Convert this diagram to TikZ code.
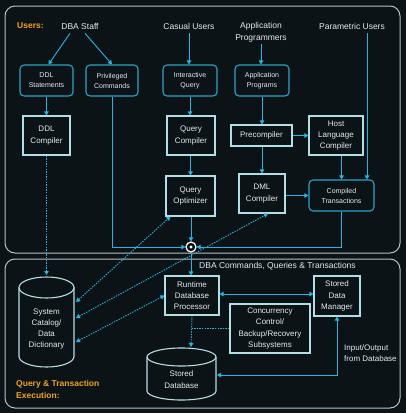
\documentclass[tikz,border=0pt]{standalone}
\usepackage{fontspec}
\setmainfont{Liberation Sans}
\usetikzlibrary{arrows.meta}
\definecolor{bgc}{HTML}{0B1316}
\definecolor{rline}{HTML}{2AA3C6}
\definecolor{sline}{HTML}{B4DEE6}
\definecolor{acol}{HTML}{27B4E4}
\definecolor{txt}{HTML}{E4ECEE}
\definecolor{orng}{HTML}{F0A21E}
\definecolor{pcol}{HTML}{B8C2C2}
\begin{document}
\begin{tikzpicture}[x=1pt,y=-1pt,
  lbl/.style={text=txt,font=\fontsize{8.5}{12}\selectfont,inner sep=0pt,align=center},
  olbl/.style={text=orng,font=\bfseries\fontsize{8.5}{12}\selectfont,inner sep=0pt,align=left},
  rbox/.style={draw=rline,line width=1.1pt,rounded corners=4pt,text=txt,font=\fontsize{7}{10}\selectfont,align=center,inner sep=0pt},
  sbox/.style={draw=sline,line width=1.1pt,text=txt,font=\fontsize{8}{11.3}\selectfont,align=center,inner sep=0pt},
  cyl/.style={draw=sline,line width=1.1pt},
  arr/.style={draw=acol,line width=0.9pt,-{Triangle[length=4pt,width=4.5pt]}},
  darr/.style={draw=acol,line width=0.9pt,{Triangle[length=4pt,width=4.5pt]}-{Triangle[length=4pt,width=4.5pt]}},
  dotl/.style={dash pattern=on 1.4pt off 1.2pt},
  panel/.style={draw=pcol,line width=1pt,rounded corners=10pt},
]
\fill[bgc] (0,0) rectangle (406,413);
\useasboundingbox (0,0) rectangle (406,413);

% panels
\draw[panel] (5,6) rectangle (400,253);
\draw[panel] (5,259) rectangle (400,408);

% header labels
\node[olbl,anchor=west] (users) at (17,26) {Users:};
\node[lbl] (dba) at (80,26) {DBA Staff};
\node[lbl] (casual) at (189,26) {Casual Users};
\node[lbl] (appprog) at (261,32) {Application\\Programmers};
\node[lbl] (param) at (352,26) {Parametric Users};

% row 1
\node[rbox,minimum width=53pt,minimum height=31pt] (ddlst) at (46.5,80.5) {DDL\\Statements};
\node[rbox,minimum width=52pt,minimum height=31pt] (priv) at (112,80.5) {Privileged\\Commands};
\node[rbox,minimum width=54pt,minimum height=31pt] (interq) at (190,80.5) {Interactive\\Query};
\node[rbox,minimum width=54pt,minimum height=31pt] (appprogs) at (262,80.5) {Application\\Programs};

% row 2
\node[sbox,minimum width=47pt,minimum height=39pt] (ddlc) at (46.5,135.5) {DDL\\Compiler};
\node[sbox,minimum width=48pt,minimum height=39pt] (qc) at (191,135.5) {Query\\Compiler};
\node[sbox,minimum width=61pt,minimum height=21pt] (prec) at (261.5,135.5) {Precompiler};
\node[sbox,minimum width=54pt,minimum height=39pt] (host) at (336,135.5) {Host\\Language\\Compiler};

% row 3
\node[sbox,minimum width=49pt,minimum height=40pt] (qo) at (190.5,196) {Query\\Optimizer};
\node[sbox,minimum width=46pt,minimum height=39pt] (dml) at (262,193.5) {DML\\Compiler};
\node[rbox,minimum width=65pt,minimum height=31pt] (comptx) at (341.5,195.5) {Compiled\\Transactions};

% hub
\node[circle,draw=white,line width=1.2pt,fill=bgc,minimum size=10pt,inner sep=0pt] (hub) at (191,247) {};
\fill[white] (hub.center) circle (1.6pt);

% bottom boxes
\node[sbox,minimum width=54pt,minimum height=39pt] (rdp) at (192,295.5) {Runtime\\Database\\Processor};
\node[sbox,minimum width=46pt,minimum height=40pt] (sdm) at (337,296) {Stored\\Data\\Manager};
\node[sbox,minimum width=80pt,minimum height=49pt] (cc) at (270,328.5) {Concurrency\\Control/\\Backup/Recovery\\Subsystems};

% cylinders
\draw[cyl] (19,287.5) -- (19,356.5) arc[start angle=180,end angle=360,x radius=27.5pt,y radius=10.5pt] -- (74,287.5);
\draw[cyl] (46.5,287.5) ellipse [x radius=27.5pt,y radius=10.5pt];
\node[text=txt,font=\fontsize{8}{11.3}\selectfont,align=center,inner sep=0pt] (cat) at (46.5,329) {System\\Catalog/\\Data\\Dictionary};

\draw[cyl] (147,357) -- (147,391) arc[start angle=180,end angle=360,x radius=34.5pt,y radius=9pt] -- (216,357);
\draw[cyl] (181.5,357) ellipse [x radius=34.5pt,y radius=9pt];
\node[text=txt,font=\fontsize{8}{11.3}\selectfont,align=center,inner sep=0pt] (sdb) at (181.5,379.5) {Stored\\Database};

% text labels bottom
\node[lbl,anchor=west] (dbacmd) at (199,266) {DBA Commands, Queries \& Transactions};
\node[text=txt,font=\fontsize{8}{11.5}\selectfont,align=left,inner sep=0pt,anchor=west] (io) at (344,353) {Input/Output\\from Database};
\node[olbl,anchor=west] (qte) at (16,389) {Query \& Transaction\\Execution:};

% coordinates on cylinders
\coordinate (catTop) at (46.5,275);
\coordinate (catA) at (76,302);
\coordinate (catB) at (76,318);
\coordinate (catC) at (76,342);
\coordinate (sdbTop) at (191,347);
\coordinate (sdbR) at (217,375);

% top arrows
\draw[arr] ([xshift=-10pt,yshift=-4pt]dba.south) -- ([xshift=2pt]ddlst.north);
\draw[arr] ([xshift=5pt,yshift=-4pt]dba.south) -- (priv.north);
\draw[arr] ([yshift=-4pt]casual.south) -- (casual.south |- interq.north);
\draw[arr] ([yshift=-2pt]appprog.south) -- (appprog.south |- appprogs.north);
\draw[arr] ([xshift=15pt,yshift=-4pt]param.south) -- ([xshift=15pt]param.south |- comptx.north);
\draw[arr] (ddlst.south) -- (ddlst.south |- ddlc.north);
\draw[arr] (interq.south) -- (interq.south |- qc.north);
\draw[arr] (qc.south -| qo.north) -- (qo.north);
\draw[arr] (appprogs.south) -- (appprogs.south |- prec.north);
\draw[arr] (prec.east) -- (prec.east -| host.west);
\draw[arr] (prec.south -| dml.north) -- (dml.north);
\draw[arr] (comptx.north |- host.south) -- (comptx.north);
\draw[arr] (comptx.west -| dml.east) -- (comptx.west);

% into hub
\draw[arr] (priv.south) -- (priv.south |- hub.west) -- (hub.west);
\draw[arr] (comptx.south) -- (comptx.south |- hub.east) -- (hub.east);
\draw[arr] (qo.south -| hub.north) -- (hub.north);
\draw[arr] (hub.south) -- (hub.south |- rdp.north);

% dotted
\draw[arr,dotl] (ddlc.south) -- (catTop);
\draw[darr,dotl] (catA) -- ([xshift=5pt]qo.south west);
\draw[darr,dotl] (catB) -- ([xshift=6pt]dml.south);
\draw[darr,dotl] (catC) -- (rdp.west);
\draw[arr,dotl] (rdp.south) -- (sdbTop);
\draw[draw=acol,line width=0.9pt,dotl] (cc.west) -- (cc.west -| rdp.south);

% bottom solid
\draw[darr] ([yshift=1.5pt]rdp.east) -- ([yshift=1.5pt]rdp.east -| sdm.west);
\draw[darr] (sdm.south) -- (sdm.south |- sdbR) -- (sdbR);
\end{tikzpicture}
\end{document}
